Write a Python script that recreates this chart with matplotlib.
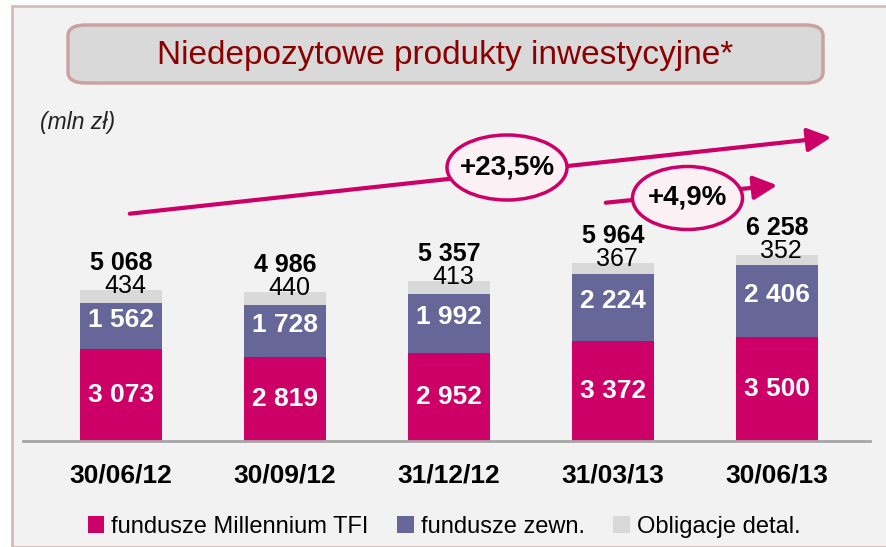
import matplotlib.pyplot as plt
from matplotlib.patches import Rectangle, FancyBboxPatch, Ellipse, FancyArrowPatch, Patch

# data (mln zl)
dates = ['30/06/12', '30/09/12', '31/12/12', '31/03/13', '30/06/13']
tfi = [3073, 2819, 2952, 3372, 3500]
zewn = [1562, 1728, 1992, 2224, 2406]
oblig = [434, 440, 413, 367, 352]
totals = [5068, 4986, 5357, 5964, 6258]
series_names = ['fundusze Millennium TFI', 'fundusze zewn.', 'Obligacje detal.']

C_TFI = '#cc0066'
C_ZEWN = '#666699'
C_OBL = '#d9d9d9'
FONT = ['Liberation Sans', 'DejaVu Sans']

W, H = 887, 547
def px(x, y):
    return x / W, 1 - y / H

def fmt(v):
    return f'{v:,}'.replace(',', ' ')

fig = plt.figure(figsize=(W / 100, H / 100), dpi=100)
fig.patch.set_facecolor('white')
plt.rcParams['font.family'] = FONT

# background panel
x0, y0 = px(12, 6)
fig.add_artist(Rectangle((x0, 0), 1.2, y0, transform=fig.transFigure,
                         facecolor='#f2f2f2', edgecolor='#d6b9b9', lw=2, zorder=0))

# title box
bx0, by0 = px(68, 83)
bx1, by1 = px(823, 25)
fig.add_artist(FancyBboxPatch((bx0, by0), bx1 - bx0, by1 - by0, transform=fig.transFigure,
                              boxstyle='round,pad=0,rounding_size=0.02',
                              facecolor='#d9d9d9', edgecolor='#c9a3a3', lw=2.5, zorder=1))
tx, ty = px(445, 55)
fig.text(tx, ty, 'Niedepozytowe produkty inwestycyjne*', color='#8b0000',
         fontsize=24, ha='center', va='center')

tx, ty = px(40, 123)
fig.text(tx, ty, '(mln zł)', fontsize=16.5, style='italic', ha='left', va='center', color='#222222')

# axes
left, bottom = px(23, 441)
right, top = px(870, 121)
ax = fig.add_axes([left, bottom, right - left, top - bottom])
ax.set_facecolor('none')
ax.set_xlim(-0.598, 4.567)
ax.set_ylim(0, 320 / 0.0298)

xs = list(range(len(dates)))
base2 = [a for a in tfi]
base3 = [a + b for a, b in zip(tfi, zewn)]
ax.bar(xs, tfi, width=0.5, color=C_TFI, zorder=2)
ax.bar(xs, zewn, width=0.5, bottom=base2, color=C_ZEWN, zorder=2)
ax.bar(xs, oblig, width=0.5, bottom=base3, color=C_OBL, zorder=2)

for i in xs:
    ax.text(i, tfi[i] / 2, fmt(tfi[i]), color='white', fontsize=19, fontweight='bold',
            ha='center', va='center', zorder=3)
    ax.annotate(fmt(zewn[i]), (i, base2[i] + zewn[i] / 2), xytext=(0, 6),
                textcoords='offset pixels', color='white', fontsize=19, fontweight='bold',
                ha='center', va='center', zorder=3)
    top_i = base3[i] + oblig[i]
    ax.annotate(fmt(oblig[i]), (i, top_i), xytext=(4, 4), textcoords='offset pixels',
                fontsize=18, ha='center', va='center', zorder=3, color='black')
    ax.annotate(fmt(totals[i]), (i, top_i), xytext=(0, 27), textcoords='offset pixels',
                fontsize=18, fontweight='bold', ha='center', va='center', zorder=3, color='black')

for s in ['top', 'right', 'left']:
    ax.spines[s].set_visible(False)
ax.spines['bottom'].set_color('#a6a6a6')
ax.spines['bottom'].set_linewidth(2)
ax.set_yticks([])
ax.set_xticks(xs)
ax.set_xticklabels(dates, fontsize=19, fontweight='bold')
ax.tick_params(axis='x', length=0, pad=16)

# growth arrows with ellipses
arrows = [((127, 214), (834, 137)), ((603, 203), (780, 185))]
for a, b in arrows:
    fig.add_artist(FancyArrowPatch(px(*a), px(*b), transform=fig.transFigure,
                                   arrowstyle='-|>,head_length=0.9,head_width=0.45',
                                   mutation_scale=16, color=C_TFI, lw=3, zorder=4))
ellipses = [((507, 167.5), 120, 65, '+23,5%'), ((687.5, 198), 110, 63, '+4,9%')]
for c, w, h, lab in ellipses:
    fig.add_artist(Ellipse(px(*c), w / W, h / H, transform=fig.transFigure,
                           facecolor='#fbf0f4', edgecolor=C_TFI, lw=2.5, zorder=5))
    cx, cy = px(*c)
    fig.text(cx, cy, lab, fontsize=20, fontweight='bold', ha='center', va='center', zorder=6)

# legend
handles = [Patch(facecolor=C_TFI), Patch(facecolor=C_ZEWN), Patch(facecolor=C_OBL)]
lx, ly = px(444, 527)
fig.legend(handles, series_names, loc='center', bbox_to_anchor=(lx, ly), ncol=3,
           frameon=False, fontsize=17, handlelength=0.7, handleheight=0.7,
           handletextpad=0.3, columnspacing=1.2)

fig.savefig('out.png', dpi=100)
